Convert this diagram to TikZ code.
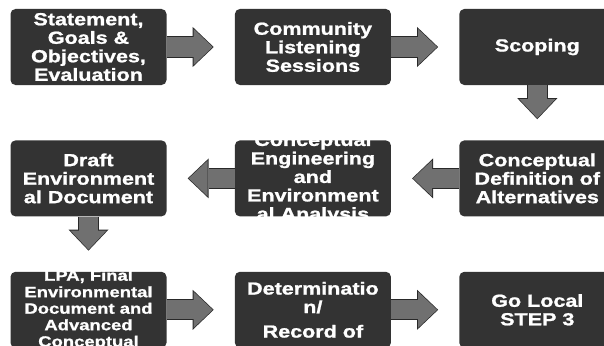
\documentclass[tikz,border=0pt]{standalone}
\usepackage{fontspec}
\newfontfamily\stagefont{Liberation Sans Bold}[FakeStretch=1.23, FakeBold=1.2]
\usepackage{tikz}
\usetikzlibrary{positioning,arrows.meta}
\definecolor{boxgray}{gray}{0.2}
\definecolor{arrowgray}{gray}{0.44}
\definecolor{arrowedge}{gray}{0.16}

\begin{document}
\begin{tikzpicture}[x=1pt, y=1pt, node distance=55pt and 68pt,
                  stagetext/.style={text=white, align=center, inner sep=0pt,
                                    font=\stagefont\fontsize{17.5}{18.5}\selectfont},
                  stage/.style={rectangle, rounded corners=5pt, fill=boxgray,
                                minimum width=156pt, minimum height=76pt, inner sep=0pt,
                                label={[stagetext]center:{#1}}},
                  smallstage/.style={rectangle, rounded corners=5pt, fill=boxgray,
                                minimum width=156pt, minimum height=76pt, inner sep=0pt,
                                label={[stagetext, font=\stagefont\fontsize{15}{16.5}\selectfont]center:{#1}}},
                  flow/.style={draw=arrowgray, line width=19pt, shorten >=22pt,
                               -{Triangle[length=19pt, width=36pt, line width=0pt]},
                               preaction={draw=arrowedge, line width=21pt, shorten >=21pt,
                               -{Triangle[length=21pt, width=40pt, line width=0pt]}}}]
    \useasboundingbox (0,0) rectangle (604,-345);
    \node[stage={Statement,\\Goals \&\\Objectives,\\Evaluation}] (statement) at (88.5,-47) {};
    \node[stage={Community\\Listening\\Sessions}, right=of statement] (listening) {};
    \node[stage={Scoping}, right=of listening] (scoping) {};
    \node[stage={Conceptual\\Definition of\\Alternatives}, below=of scoping] (definition) {};
    \node[stage={Conceptual\\Engineering\\and\\Environment\\al Analysis}, left=of definition] (engineering) {};
    \node[stage={Draft\\Environment\\al Document}, left=of engineering] (draft) {};
    \node[smallstage={LPA, Final\\Environmental\\Document and\\Advanced\\Conceptual}, below=of draft] (lpa) {};
    \node[stage={Determinatio\\n/\\[6pt]Record of}, right=of lpa] (record) {};
    \node[stage={Go Local\\STEP 3}, right=of record] (golocal) {};
    \draw[flow] (statement) -- (listening);
    \draw[flow] (listening) -- (scoping);
    \draw[flow] (scoping) -- (definition);
    \draw[flow] (definition) -- (engineering);
    \draw[flow] (engineering) -- (draft);
    \draw[flow] (draft) -- (lpa);
    \draw[flow] (lpa) -- (record);
    \draw[flow] (record) -- (golocal);
  \end{tikzpicture}
\end{document}
